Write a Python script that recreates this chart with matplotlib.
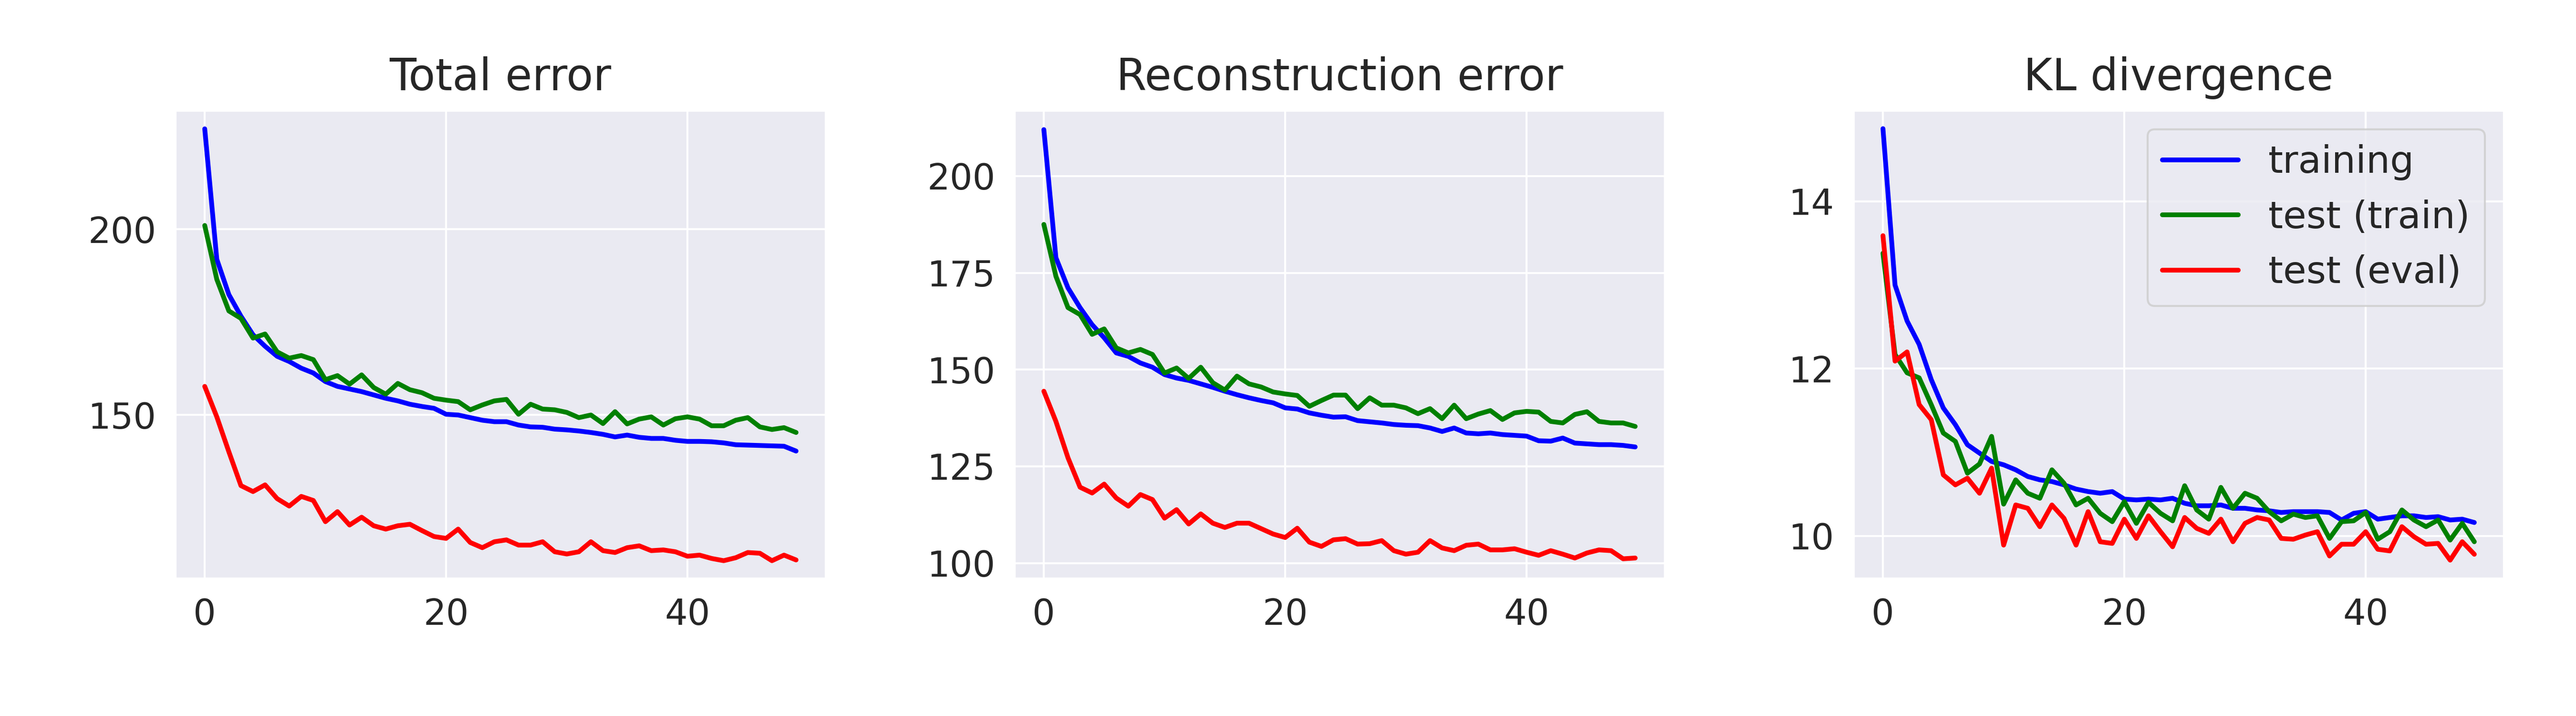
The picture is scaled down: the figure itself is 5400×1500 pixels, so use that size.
import numpy as np
import matplotlib
matplotlib.use("Agg")
import matplotlib.pyplot as plt
import seaborn as sns

sns.set_theme(style="darkgrid")

epochs = np.arange(50)

# Total error
total_train = [227, 191.9, 182.4, 176.6, 171.6, 168.5, 165.8, 164.4, 162.6, 161.3,
               159, 157.7, 157, 156.3, 155.4, 154.5, 153.8, 152.9, 152.3, 151.8,
               150.2, 150, 149.3, 148.6, 148.2, 148.2, 147.3, 146.8, 146.7, 146.2,
               146, 145.7, 145.3, 144.8, 144.1, 144.6, 144, 143.7, 143.7, 143.2,
               142.9, 142.9, 142.8, 142.5, 142, 141.9, 141.8, 141.7, 141.6, 140.3]
total_test_train = [201, 186.5, 178, 176, 170.7, 171.8, 167, 165.3, 166, 164.9,
                    159.5, 160.6, 158.3, 160.8, 157.4, 155.6, 158.5, 156.8, 156, 154.5,
                    154, 153.6, 151.4, 152.7, 153.8, 154.2, 150.2, 152.9, 151.6, 151.4,
                    150.7, 149.3, 150, 147.7, 150.9, 147.6, 148.9, 149.5, 147.3, 149,
                    149.5, 148.9, 147.1, 147.1, 148.6, 149.3, 146.8, 146.1, 146.6, 145.3]
total_test_eval = [157.7, 149.5, 140.1, 131, 129.4, 131.2, 127.5, 125.5, 128.1, 127,
                   121.3, 124, 120.4, 122.5, 120.2, 119.3, 120.2, 120.6, 118.9, 117.3,
                   116.8, 119.3, 115.7, 114.3, 115.9, 116.4, 115, 115, 115.9, 113.2,
                   112.6, 113.2, 115.9, 113.5, 113, 114.3, 114.8, 113.5, 113.7, 113.2,
                   112, 112.3, 111.4, 110.8, 111.6, 113, 112.8, 110.8, 112.3, 111]

# Reconstruction error
rec_train = [212, 178.9, 171.1, 166, 161.6, 158.2, 154.3, 153.4, 151.7, 150.6,
             148.7, 147.8, 147.2, 146.3, 145.4, 144.4, 143.5, 142.7, 142, 141.4,
             140.1, 139.8, 138.8, 138.2, 137.7, 137.8, 136.8, 136.5, 136.2, 135.8,
             135.6, 135.5, 134.9, 134, 134.9, 133.6, 133.4, 133.6, 133.2, 133,
             132.8, 131.6, 131.5, 132.3, 131, 130.8, 130.6, 130.6, 130.4, 130]
rec_test_train = [187.5, 174.1, 166, 164.2, 159.1, 160.5, 155.6, 154.3, 155.2, 153.9,
                  149.1, 150.4, 147.7, 150.6, 146.6, 144.7, 148.3, 146.3, 145.5, 144.2,
                  143.7, 143.3, 140.5, 142, 143.4, 143.4, 139.9, 142.7, 140.8, 140.8,
                  140.1, 138.6, 139.9, 137.3, 140.8, 137.3, 138.5, 139.4, 137.1, 138.8,
                  139.2, 139, 136.6, 136.2, 138.4, 139.1, 136.6, 136.2, 136.2, 135.3]
rec_test_eval = [144.4, 136.6, 127.2, 119.6, 118.1, 120.4, 116.8, 114.7, 117.7, 116.4,
                 111.6, 113.8, 110.1, 112.7, 110.3, 109.2, 110.3, 110.3, 108.9, 107.5,
                 106.6, 109, 105.4, 104.3, 106, 106.3, 104.9, 105, 105.8, 103.2,
                 102.3, 102.8, 105.8, 103.9, 103.2, 104.6, 104.9, 103.4, 103.4, 103.7,
                 102.8, 102, 103.2, 102.3, 101.3, 102.6, 103.4, 103.2, 101.1, 101.3]

# KL divergence
kl_train = [14.87, 13.0, 12.57, 12.29, 11.87, 11.53, 11.33, 11.09, 10.99, 10.89,
            10.85, 10.79, 10.71, 10.67, 10.65, 10.61, 10.56, 10.53, 10.51, 10.53,
            10.44, 10.43, 10.44, 10.43, 10.45, 10.39, 10.36, 10.36, 10.37, 10.33,
            10.33, 10.31, 10.3, 10.28, 10.29, 10.29, 10.29, 10.28, 10.19, 10.27,
            10.29, 10.2, 10.22, 10.24, 10.24, 10.22, 10.23, 10.19, 10.2, 10.16]
kl_test_train = [13.38, 12.17, 11.95, 11.89, 11.57, 11.23, 11.13, 10.75, 10.86, 11.19,
                 10.38, 10.67, 10.51, 10.45, 10.79, 10.63, 10.37, 10.45, 10.27, 10.17,
                 10.41, 10.15, 10.40, 10.27, 10.18, 10.6, 10.31, 10.2, 10.58, 10.33,
                 10.51, 10.45, 10.29, 10.18, 10.26, 10.22, 10.24, 9.97, 10.17, 10.18,
                 10.28, 9.96, 10.05, 10.31, 10.19, 10.11, 10.19, 9.95, 10.15, 9.93]
kl_test_eval = [13.59, 12.09, 12.2, 11.57, 11.39, 10.73, 10.61, 10.69, 10.51, 10.81,
                9.89, 10.37, 10.33, 10.11, 10.37, 10.21, 9.89, 10.29, 9.93, 9.91,
                10.2, 9.97, 10.24, 10.05, 9.87, 10.22, 10.09, 10.03, 10.2, 9.93,
                10.15, 10.22, 10.19, 9.97, 9.96, 10.01, 10.05, 9.76, 9.9, 9.9,
                10.05, 9.84, 9.82, 10.11, 9.99, 9.9, 9.91, 9.71, 9.93, 9.78]

titles = ["Total error", "Reconstruction error", "KL divergence"]
panels = [(total_train, total_test_train, total_test_eval),
          (rec_train, rec_test_train, rec_test_eval),
          (kl_train, kl_test_train, kl_test_eval)]
ylims = [(106, 232), (96, 217), (9.49, 15.09)]
yticks = [[150, 200], [100, 125, 150, 175, 200], [10, 12, 14]]

fig, axes = plt.subplots(1, 3, figsize=(18, 5), dpi=300)
for ax, title, (tr, tt, te), yl, yt in zip(axes, titles, panels, ylims, yticks):
    ax.plot(epochs, tr, color="blue", lw=2.4, label="training")
    ax.plot(epochs, tt, color="green", lw=2.4, label="test (train)")
    ax.plot(epochs, te, color="red", lw=2.4, label="test (eval)")
    ax.set_title(title, fontsize=22, pad=10)
    ax.set_ylim(*yl)
    ax.set_yticks(yt)
    ax.set_xticks([0, 20, 40])
    ax.tick_params(labelsize=18)

axes[2].legend(fontsize=19, loc="upper right")

plt.subplots_adjust(left=0.068, right=0.972, top=0.846, bottom=0.192, wspace=0.29)
plt.savefig("out.png", dpi=300)
